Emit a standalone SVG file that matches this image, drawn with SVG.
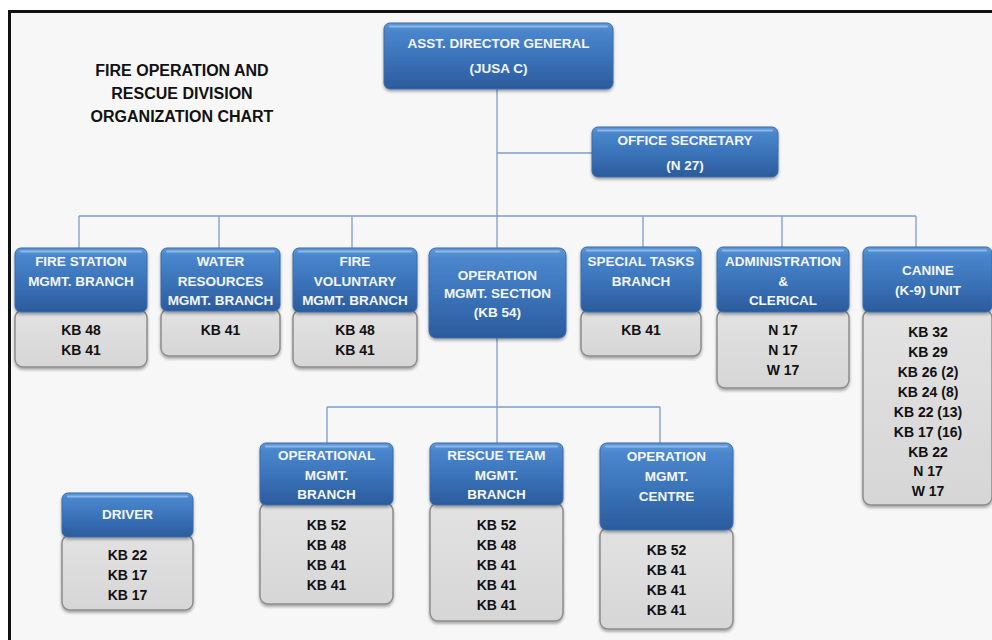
<svg xmlns="http://www.w3.org/2000/svg" width="992" height="640" viewBox="0 0 992 640">
  <defs>
    <linearGradient id="blueFill" x1="0" y1="0" x2="0" y2="1">
      <stop offset="0" stop-color="#5f99da"/>
      <stop offset="0.12" stop-color="#4a86cc"/>
      <stop offset="0.55" stop-color="#3a72b8"/>
      <stop offset="1" stop-color="#2b5b9c"/>
    </linearGradient>
    <linearGradient id="greyFill" x1="0" y1="0" x2="0" y2="1">
      <stop offset="0" stop-color="#e2e2e2"/>
      <stop offset="1" stop-color="#d6d6d6"/>
    </linearGradient>
    <filter id="shadow" x="-10%" y="-10%" width="120%" height="130%">
      <feDropShadow dx="0" dy="2" stdDeviation="1.5" flood-color="#000" flood-opacity="0.35"/>
    </filter>
    <style>
      .head { fill: url(#blueFill); stroke: #3a6aa8; stroke-width: 1; filter: url(#shadow); }
      .gloss { fill: none; stroke: #9cc2ee; stroke-width: 2; stroke-linecap: round; opacity: 0.8; }
      .body { fill: url(#greyFill); stroke: #8c8c8c; stroke-width: 1.5; filter: url(#shadow); }
      .ht { font-family: "Liberation Sans", Arial, sans-serif; font-weight: bold; font-size: 13.5px; fill: #f4f7fc; text-anchor: middle; }
      .bt { font-family: "Liberation Sans", Arial, sans-serif; font-weight: bold; font-size: 14px; fill: #111; text-anchor: middle; }
      .title { font-family: "Liberation Sans", Arial, sans-serif; font-weight: bold; font-size: 16px; fill: #111; text-anchor: middle; }
      .link { fill: none; stroke: #7f9dcb; stroke-width: 1.3; }
    </style>
  </defs>

  <!-- page and frame -->
  <rect x="0" y="0" width="992" height="640" fill="#ffffff"/>
  <rect x="9" y="11" width="983" height="629" fill="#f7f7f7"/>
  <path d="M9.5 640 V11.5 H992" fill="none" stroke="#111" stroke-width="3"/>

  <!-- title -->
  <g id="title">
    <text class="title" x="182" y="76">FIRE OPERATION AND</text>
    <text class="title" x="182" y="99">RESCUE DIVISION</text>
    <text class="title" x="182" y="122">ORGANIZATION CHART</text>
  </g>

  <!-- connectors -->
  <g id="connectors">
    <path class="link" d="M497 89 V248"/>
    <path class="link" d="M497 153 H592"/>
    <path class="link" d="M79 216 H916"/>
    <path class="link" d="M79 216 V248 M219 216 V248 M352 216 V248 M643 216 V247 M782 216 V247 M916 216 V247"/>
    <path class="link" d="M497 338 V443"/>
    <path class="link" d="M327 407 H660"/>
    <path class="link" d="M327 407 V443 M660 407 V443"/>
  </g>

  <!-- top level -->
  <g id="adg">
    <rect class="head" x="384" y="23" width="229" height="66" rx="6"/>
    <path class="gloss" d="M390 26.5 H607"/>
    <text class="ht" x="498.5" y="48">ASST. DIRECTOR GENERAL</text>
    <text class="ht" x="498.5" y="73">(JUSA C)</text>
  </g>

  <g id="office-secretary">
    <rect class="head" x="592" y="127" width="186" height="50" rx="6"/>
    <path class="gloss" d="M598 130.5 H772"/>
    <text class="ht" x="685" y="145">OFFICE SECRETARY</text>
    <text class="ht" x="685" y="170">(N 27)</text>
  </g>

  <!-- second level -->
  <g id="fire-station">
    <rect class="body" x="15" y="310" width="132" height="57" rx="8"/>
    <rect class="head" x="15" y="248" width="132" height="64" rx="6"/>
    <path class="gloss" d="M21 251.5 H141"/>
    <text class="ht" x="81" y="266">FIRE STATION</text>
    <text class="ht" x="81" y="286">MGMT. BRANCH</text>
    <text class="bt" x="81" y="335">KB 48</text>
    <text class="bt" x="81" y="355">KB 41</text>
  </g>

  <g id="water-resources">
    <rect class="body" x="161" y="309" width="119" height="47" rx="8"/>
    <rect class="head" x="161" y="248" width="119" height="63" rx="6"/>
    <path class="gloss" d="M167 251.5 H274"/>
    <text class="ht" x="220.5" y="266">WATER</text>
    <text class="ht" x="220.5" y="286">RESOURCES</text>
    <text class="ht" x="220.5" y="305">MGMT. BRANCH</text>
    <text class="bt" x="220.5" y="335">KB 41</text>
  </g>

  <g id="fire-voluntary">
    <rect class="body" x="293" y="310" width="124" height="57" rx="8"/>
    <rect class="head" x="293" y="248" width="124" height="64" rx="6"/>
    <path class="gloss" d="M299 251.5 H411"/>
    <text class="ht" x="355" y="266">FIRE</text>
    <text class="ht" x="355" y="286">VOLUNTARY</text>
    <text class="ht" x="355" y="305">MGMT. BRANCH</text>
    <text class="bt" x="355" y="335">KB 48</text>
    <text class="bt" x="355" y="355">KB 41</text>
  </g>

  <g id="operation-section">
    <rect class="head" x="429" y="248" width="137" height="90" rx="7"/>
    <path class="gloss" d="M436 251.5 H559"/>
    <text class="ht" x="497.5" y="280">OPERATION</text>
    <text class="ht" x="497.5" y="298">MGMT. SECTION</text>
    <text class="ht" x="497.5" y="317">(KB 54)</text>
  </g>

  <g id="special-tasks">
    <rect class="body" x="581" y="310" width="120" height="46" rx="8"/>
    <rect class="head" x="581" y="247" width="120" height="65" rx="6"/>
    <path class="gloss" d="M587 250.5 H695"/>
    <text class="ht" x="641" y="266">SPECIAL TASKS</text>
    <text class="ht" x="641" y="286">BRANCH</text>
    <text class="bt" x="641" y="335">KB 41</text>
  </g>

  <g id="administration">
    <rect class="body" x="717" y="310" width="132" height="78" rx="8"/>
    <rect class="head" x="717" y="247" width="132" height="65" rx="6"/>
    <path class="gloss" d="M723 250.5 H843"/>
    <text class="ht" x="783" y="266">ADMINISTRATION</text>
    <text class="ht" x="783" y="286">&amp;</text>
    <text class="ht" x="783" y="305">CLERICAL</text>
    <text class="bt" x="783" y="335">N 17</text>
    <text class="bt" x="783" y="355">N 17</text>
    <text class="bt" x="783" y="375">W 17</text>
  </g>

  <g id="canine">
    <rect class="body" x="863" y="310" width="129" height="195" rx="8"/>
    <rect class="head" x="863" y="247" width="129" height="65" rx="6"/>
    <path class="gloss" d="M869 250.5 H986"/>
    <text class="ht" x="928" y="275">CANINE</text>
    <text class="ht" x="928" y="295">(K-9) UNIT</text>
    <text class="bt" x="928" y="337">KB 32</text>
    <text class="bt" x="928" y="357">KB 29</text>
    <text class="bt" x="928" y="377">KB 26 (2)</text>
    <text class="bt" x="928" y="397">KB 24 (8)</text>
    <text class="bt" x="928" y="417">KB 22 (13)</text>
    <text class="bt" x="928" y="437">KB 17 (16)</text>
    <text class="bt" x="928" y="457">KB 22</text>
    <text class="bt" x="928" y="476">N 17</text>
    <text class="bt" x="928" y="496">W 17</text>
  </g>

  <!-- third level -->
  <g id="operational-branch">
    <rect class="body" x="260" y="503" width="133" height="101" rx="8"/>
    <rect class="head" x="260" y="443" width="133" height="62" rx="6"/>
    <path class="gloss" d="M266 446.5 H387"/>
    <text class="ht" x="326.5" y="460">OPERATIONAL</text>
    <text class="ht" x="326.5" y="480">MGMT.</text>
    <text class="ht" x="326.5" y="499">BRANCH</text>
    <text class="bt" x="326.5" y="530">KB 52</text>
    <text class="bt" x="326.5" y="550">KB 48</text>
    <text class="bt" x="326.5" y="570">KB 41</text>
    <text class="bt" x="326.5" y="590">KB 41</text>
  </g>

  <g id="rescue-team">
    <rect class="body" x="430" y="503" width="133" height="118" rx="8"/>
    <rect class="head" x="430" y="443" width="133" height="62" rx="6"/>
    <path class="gloss" d="M436 446.5 H557"/>
    <text class="ht" x="496.5" y="460">RESCUE TEAM</text>
    <text class="ht" x="496.5" y="480">MGMT.</text>
    <text class="ht" x="496.5" y="499">BRANCH</text>
    <text class="bt" x="496.5" y="530">KB 52</text>
    <text class="bt" x="496.5" y="550">KB 48</text>
    <text class="bt" x="496.5" y="570">KB 41</text>
    <text class="bt" x="496.5" y="590">KB 41</text>
    <text class="bt" x="496.5" y="610">KB 41</text>
  </g>

  <g id="operation-centre">
    <rect class="body" x="600" y="528" width="133" height="101" rx="8"/>
    <rect class="head" x="600" y="443" width="133" height="87" rx="7"/>
    <path class="gloss" d="M606 446.5 H727"/>
    <text class="ht" x="666.5" y="461">OPERATION</text>
    <text class="ht" x="666.5" y="481">MGMT.</text>
    <text class="ht" x="666.5" y="501">CENTRE</text>
    <text class="bt" x="666.5" y="555">KB 52</text>
    <text class="bt" x="666.5" y="575">KB 41</text>
    <text class="bt" x="666.5" y="595">KB 41</text>
    <text class="bt" x="666.5" y="615">KB 41</text>
  </g>

  <g id="driver">
    <rect class="body" x="62" y="535" width="131" height="75" rx="8"/>
    <rect class="head" x="62" y="493" width="131" height="44" rx="6"/>
    <path class="gloss" d="M68 496.5 H187"/>
    <text class="ht" x="127.5" y="519">DRIVER</text>
    <text class="bt" x="127.5" y="560">KB 22</text>
    <text class="bt" x="127.5" y="580">KB 17</text>
    <text class="bt" x="127.5" y="600">KB 17</text>
  </g>
</svg>
